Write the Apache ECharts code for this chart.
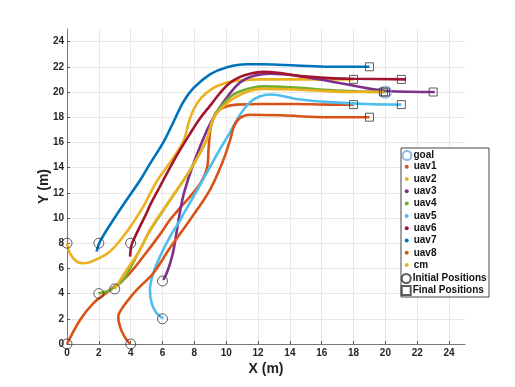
<!DOCTYPE html>
<html><head><meta charset="utf-8">
<script src="https://cdn.jsdelivr.net/npm/echarts@6/dist/echarts.min.js"></script>
<style>html,body{margin:0;padding:0;background:#fff}#c{width:515px;height:387px}</style>
</head><body><div id="c"></div>
<script>
// ---- data ----
const seriesNames = ['uav1','uav2','uav3','uav4','uav5','uav6','uav7','uav8','cm'];
const seriesColors = ['#D95319','#EDB120','#7E2F8E','#77AC30','#4DBEEE','#A2142F','#0072BD','#D95319','#EDB120'];
const uav1 = [[0,0],[0.82,1.91],[1.65,3.23],[2.7,4.29],[3.75,5.35],[4.79,6.94],[5.84,8.7],[6.47,9.86],[7.1,10.8],[7.73,11.7],[8.4,12.8],[8.8,14.0],[8.9,15.6],[9.05,17.3],[9.4,18.4],[10.0,18.85],[10.66,19.0],[12.3,19.05],[14.4,19.05],[16.5,19.0],[18,19]];
const uav2 = [[0,8],[0.19,7.2],[0.61,6.54],[1.03,6.41],[1.65,6.6],[2.7,7.34],[3.75,8.9],[4.79,10.9],[5.63,12.9],[6.47,14.4],[7.1,15.6],[7.4,16.4],[7.65,17.6],[7.95,18.6],[8.4,19.5],[9.1,20.25],[9.9,20.7],[10.8,20.9],[12.1,21.0],[15,21.0],[18,21]];
const uav3 = [[6.05,5.09],[6.26,5.62],[6.5,6.5],[6.7,7.5],[6.9,9.0],[7.1,10.5],[7.35,12.0],[7.94,14.3],[8.77,16.9],[9.4,18.4],[10.24,19.9],[10.87,20.75],[11.5,21.2],[12.75,21.45],[14.4,21.3],[16.5,20.85],[18.2,20.45],[20.1,20.08],[23.1,20.0]];
const uav4 = [[1.97,4.03],[2.49,4.16],[3.0,4.5],[3.54,5.09],[4.59,7.5],[5.21,9.0],[6.47,11.4],[7.73,13.8],[8.77,16.2],[9.19,17.9],[9.7,18.9],[10.45,19.8],[11.5,20.3],[12.3,20.45],[14.4,20.35],[16.5,20.15],[18,20.05],[20,20]];
const uav5 = [[6.05,2.04],[5.63,2.44],[5.32,3.23],[5.21,4.29],[5.42,5.62],[5.84,6.94],[6.47,8.53],[7.1,9.8],[7.31,10.3],[8.35,12.6],[9.4,15.0],[10.24,16.8],[10.87,18.2],[11.5,19.2],[12.1,19.65],[12.8,19.8],[14.4,19.45],[16.5,19.2],[18.8,19.05],[21,19]];
const uav6 = [[3.96,6.94],[4.06,7.87],[4.38,8.8],[5.0,10.4],[5.21,11.0],[5.84,12.5],[6.47,14.0],[7.1,15.4],[7.73,16.7],[8.35,17.9],[8.98,18.9],[9.6,19.9],[10.2,20.7],[10.87,21.2],[11.5,21.45],[12.3,21.6],[13.4,21.5],[14.4,21.3],[16.5,21.1],[18,21.05],[21.3,21]];
const uav7 = [[1.86,7.34],[2.07,8.13],[2.91,9.86],[3.75,11.45],[4.59,13.0],[5.21,14.3],[6.05,16.0],[6.68,17.6],[7.3,19.2],[7.94,20.3],[8.98,21.4],[10.0,21.95],[11.3,22.2],[12.3,22.2],[14.4,22.1],[16.5,22.0],[19,22]];
const uav8 = [[3.96,0],[3.6,0.6],[3.33,1.38],[3.22,2.17],[3.54,2.97],[4.38,4.29],[5.42,5.62],[6.4,7.5],[7.1,8.75],[7.73,9.86],[8.98,12.24],[9.82,14.6],[10.25,16.2],[10.5,17.3],[10.87,17.95],[11.5,18.2],[13.4,18.15],[16.5,18.0],[19,18]];
const cm = [[3.0,4.375],[3.75,5.88],[4.59,7.47],[5.21,9.06],[6.47,11.45],[7.73,13.8],[8.77,16.2],[9.19,17.9],[9.7,18.7],[10.45,19.5],[11.5,20.1],[12.3,20.25],[14.4,20.2],[16.5,20.05],[18,20.0],[19.875,20.0]];
const goalPoint = [[20,20]];
const initialPositions = [[0,8],[2,8],[4,8],[2,4],[3,4.375],[6,5],[6,2],[0,0],[4,0]];
const finalPositions = [[19,22],[18,21],[21,21],[20,20],[23,20],[18,19],[21,19],[19,18],[19.875,20]];
const xTicks = [0,2,4,6,8,10,12,14,16,18,20,22,24];
const yTicks = [0,2,4,6,8,10,12,14,16,18,20,22,24];

const paths = [uav1,uav2,uav3,uav4,uav5,uav6,uav7,uav8,cm];

const chart = echarts.init(document.getElementById('c'), null, {renderer:'canvas'});
const fontFam = '"Liberation Sans", Arial, Helvetica, sans-serif';

const series = [];
series.push({name:'goal', type:'scatter', data:goalPoint, symbol:'circle', symbolSize:12,
  itemStyle:{color:'rgba(0,0,0,0)', borderColor:'#6FA8DC', borderWidth:1.2}, z:5});
paths.forEach((p,i)=>{
  series.push({name:seriesNames[i], type:'line', data:p, showSymbol:false, symbol:'circle', symbolSize:3,
    smooth:0.35, lineStyle:{color:seriesColors[i], width:2.6}, itemStyle:{color:seriesColors[i]}, z:2+i*0.01});
});
series.push({name:'Initial Positions', type:'scatter', data:initialPositions, symbol:'circle', symbolSize:10,
  itemStyle:{color:'rgba(0,0,0,0)', borderColor:'#333', borderWidth:1}, z:6});
series.push({name:'Final Positions', type:'scatter', data:finalPositions, symbol:'rect', symbolSize:8,
  itemStyle:{color:'rgba(0,0,0,0)', borderColor:'#333', borderWidth:1}, z:6});

const legendText = {fontFamily:fontFam, fontSize:10, fontWeight:'bold', color:'#111', lineHeight:12};
const legendTextTight = Object.assign({}, legendText, {padding:[0,0,0,-3]});
const axisCommon = {
  axisLine:{show:true, onZero:false, lineStyle:{color:'#777', width:1}},
  axisTick:{show:true, inside:true, length:3, lineStyle:{color:'#555'}},
  splitLine:{show:true, showMaxLine:false, lineStyle:{color:'#e8e8e8', width:1}}
};
const option = {
  animation:false,
  backgroundColor:'#fff',
  grid:{left:67, top:29, width:398, height:315, containLabel:false},
  xAxis:Object.assign({type:'value', min:0, max:25, interval:2,
    name:'X (m)', nameLocation:'middle', nameGap:18, nameMoveOverlap:false,
    nameTextStyle:{fontFamily:fontFam, fontSize:14, fontWeight:'bold', color:'#222'},
    axisLabel:{showMaxLabel:false, margin:4, fontFamily:fontFam, fontSize:10, fontWeight:'bold', color:'#262626',
      formatter:v=> xTicks.includes(v)? String(v):''}}, axisCommon),
  yAxis:Object.assign({type:'value', min:0, max:25, interval:2,
    name:'Y (m)', nameLocation:'middle', nameGap:16, nameMoveOverlap:false,
    nameTextStyle:{fontFamily:fontFam, fontSize:14, fontWeight:'bold', color:'#222'},
    axisLabel:{showMaxLabel:false, margin:3, fontFamily:fontFam, fontSize:10, fontWeight:'bold', color:'#262626',
      formatter:v=> yTicks.includes(v)? String(v):''}}, axisCommon),
  graphic:[{type:'rect', shape:{x:401, y:148, width:88, height:149},
    style:{fill:'#fff', stroke:'#444', lineWidth:1}, z:50, zlevel:0}],
  legend:[
    {orient:'vertical', left:401.5, top:149.5, padding:0, itemWidth:9, itemHeight:9, itemGap:0, z:60,
      data:[{name:'goal', icon:'circle'}], textStyle:legendTextTight, selectedMode:false},
    {orient:'vertical', left:404.7, top:160.7, padding:0, itemWidth:4, itemHeight:4, itemGap:0.3, z:60,
      data:seriesNames.map(n=>({name:n, icon:'circle'})), textStyle:legendText, selectedMode:false, itemStyle:{borderWidth:0}},
    {orient:'vertical', left:400.7, top:272.5, padding:0, itemWidth:9, itemHeight:9, itemGap:0, z:60,
      data:[{name:'Initial Positions', icon:'circle'},{name:'Final Positions', icon:'rect'}], textStyle:legendTextTight, selectedMode:false}
  ],
  series:series
};
chart.setOption(option);
</script></body></html>
